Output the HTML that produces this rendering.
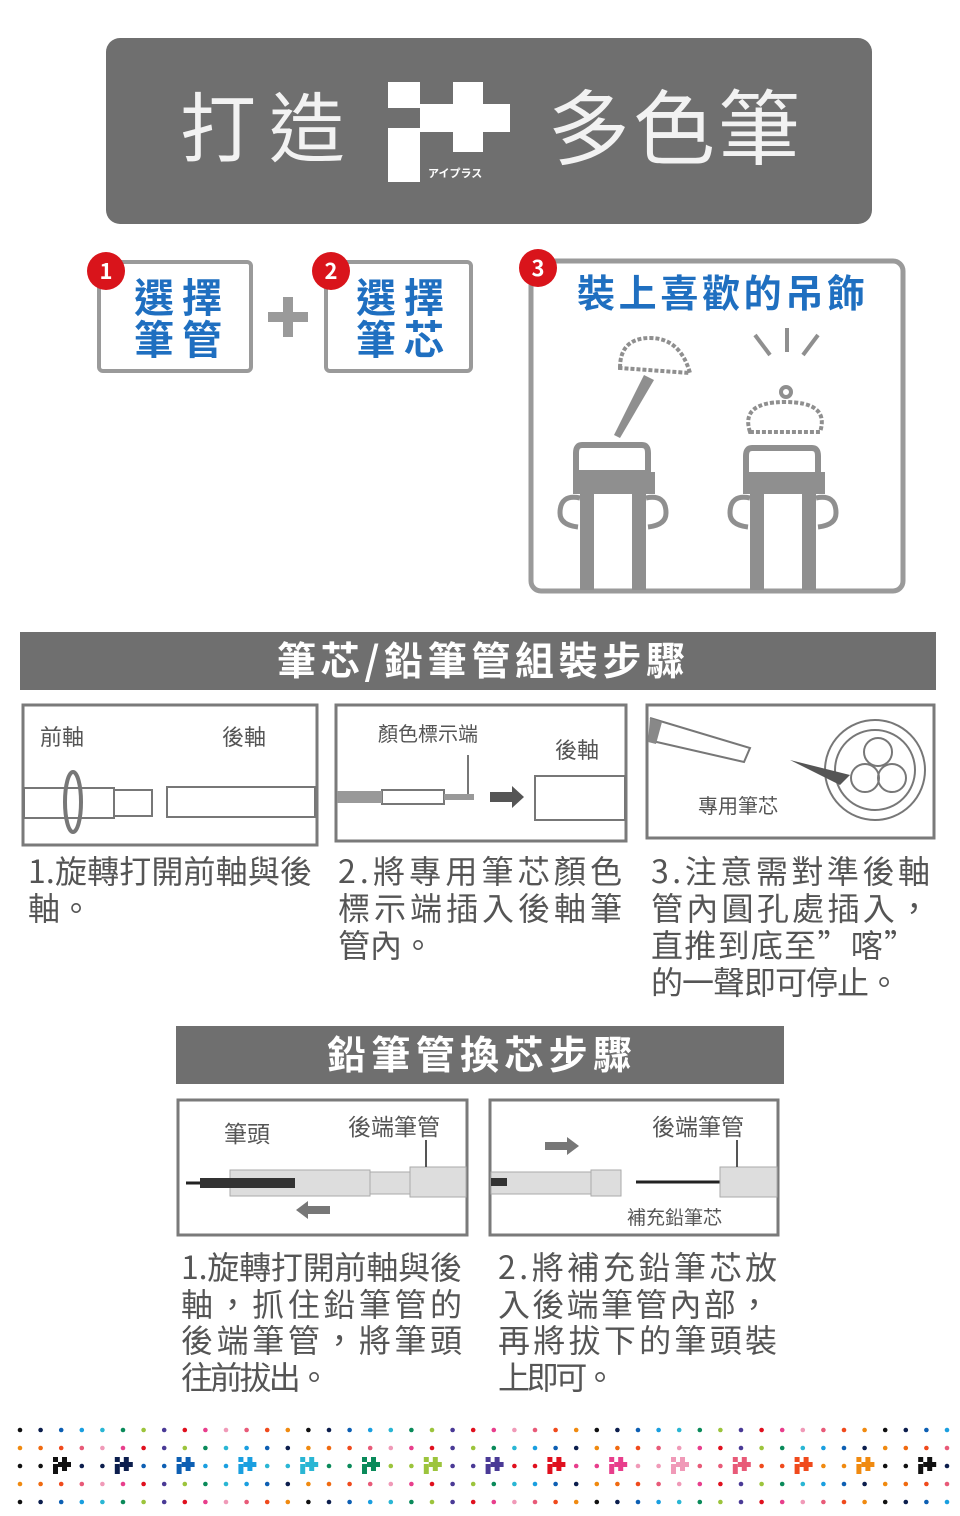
<!DOCTYPE html>
<html><head><meta charset="utf-8"><style>
html,body{margin:0;padding:0;background:#fff;}
svg{display:block}
text{font-family:"Noto Sans CJK TC","Liberation Sans",sans-serif;}
</style></head><body>
<svg width="960" height="1516" viewBox="0 0 960 1516" xmlns="http://www.w3.org/2000/svg">
<!-- header -->
<rect x="106" y="38" width="766" height="186" rx="14" fill="#6f6f6f"/>
<text x="180" y="156" font-size="76" fill="#f2f2f2" textLength="165" lengthAdjust="spacing">打造</text>
<text x="548" y="158" font-size="82" fill="#f2f2f2" textLength="252" lengthAdjust="spacing">多色筆</text>
<rect x="388" y="82" width="32" height="26" fill="#fff"/>
<rect x="388" y="128" width="32" height="54" fill="#fff"/>
<rect x="420" y="104" width="90" height="28" fill="#fff"/>
<rect x="453" y="82" width="30" height="70" fill="#fff"/>
<text x="428" y="177" font-size="11" fill="#fff" font-weight="bold">アイプラス</text>

<!-- step boxes -->
<rect x="99" y="262" width="152" height="109" rx="4" fill="none" stroke="#9a9a9a" stroke-width="4"/>
<rect x="326" y="262" width="145" height="109" rx="4" fill="none" stroke="#9a9a9a" stroke-width="4"/>
<rect x="531" y="261" width="372" height="330" rx="10" fill="none" stroke="#9a9a9a" stroke-width="5"/>
<g fill="#1f6fc0" font-weight="bold" font-size="40">
<text x="134" y="312" textLength="88" lengthAdjust="spacing">選擇</text><text x="134" y="354" textLength="88" lengthAdjust="spacing">筆管</text>
<text x="356" y="312" textLength="88" lengthAdjust="spacing">選擇</text><text x="356" y="354" textLength="88" lengthAdjust="spacing">筆芯</text>
<text x="577" y="307" font-size="38" textLength="288" lengthAdjust="spacing">裝上喜歡的吊飾</text>
</g>
<rect x="268" y="312" width="40" height="10" fill="#9a9a9a"/>
<rect x="283" y="297" width="10" height="40" fill="#9a9a9a"/>
<g font-weight="bold" font-size="22" fill="#fff" text-anchor="middle">
<circle cx="106" cy="271" r="19" fill="#d9141b"/><text x="106" y="279">1</text>
<circle cx="331" cy="271" r="19" fill="#d9141b"/><text x="331" y="279">2</text>
<circle cx="538" cy="268" r="19" fill="#d9141b"/><text x="538" y="276">3</text>
</g>
<!-- pens with crowns -->
<g fill="#8f8f8f">
<path d="M582 445 h60 q6 0 6 8 v20 h-72 v-20 q0-8 6-8z" fill="#fff" stroke="#8f8f8f" stroke-width="6"/>
<rect x="573" y="472" width="82" height="22"/>
<rect x="580" y="494" width="14" height="96"/><rect x="632" y="494" width="14" height="96"/>
<path d="M580 498 q-20 -4 -20 15 q0 12 18 14" fill="none" stroke="#8f8f8f" stroke-width="5"/>
<path d="M646 498 q20 -4 20 15 q0 12 -18 14" fill="none" stroke="#8f8f8f" stroke-width="5"/>
<path d="M752 448 h60 q6 0 6 8 v20 h-72 v-20 q0-8 6-8z" fill="#fff" stroke="#8f8f8f" stroke-width="6"/>
<rect x="743" y="472" width="82" height="22"/>
<rect x="750" y="494" width="14" height="96"/><rect x="802" y="494" width="14" height="96"/>
<path d="M750 498 q-20 -4 -20 15 q0 12 18 14" fill="none" stroke="#8f8f8f" stroke-width="5"/>
<path d="M816 498 q20 -4 20 15 q0 12 -18 14" fill="none" stroke="#8f8f8f" stroke-width="5"/>
<path d="M614 435 l30 -60 l10 5 l-34 58z"/>
</g>
<g fill="none" stroke="#8f8f8f" stroke-width="4" stroke-dasharray="4 2">
<path d="M620 368 q0 -30 30 -30 q30 0 40 35 l-70 -5z"/>
<path d="M750 432 q-10 -30 35 -30 q45 0 35 30 z"/>
</g>
<g fill="none" stroke="#8f8f8f" stroke-width="4">
<circle cx="786" cy="392" r="5"/>
<line x1="755" y1="335" x2="770" y2="355"/><line x1="787" y1="328" x2="787" y2="352"/><line x1="818" y1="335" x2="803" y2="355"/>
</g>

<!-- section bar 1 -->
<rect x="20" y="632" width="916" height="58" fill="#6f6f6f"/>
<text x="277" y="675" font-size="39" fill="#fff" font-weight="bold" textLength="408" lengthAdjust="spacing">筆芯/鉛筆管組裝步驟</text>
<g fill="none" stroke="#7a7a7a" stroke-width="3">
<rect x="23" y="705" width="294" height="140"/>
<rect x="336" y="705" width="290" height="136"/>
<rect x="647" y="705" width="287" height="133"/>
</g>
<g font-size="22" fill="#555">
<text x="40" y="745">前軸</text><text x="222" y="745">後軸</text>
<text x="378" y="741" font-size="20">顏色標示端</text><text x="555" y="758">後軸</text>
<text x="698" y="813" font-size="20">專用筆芯</text>
</g>
<g fill="none" stroke="#777" stroke-width="2">
<rect x="24" y="788" width="90" height="30"/><rect x="114" y="790" width="38" height="26"/>
<rect x="167" y="787" width="148" height="30"/>
<ellipse cx="73" cy="802" rx="8" ry="30" stroke-width="4"/>
<rect x="382" y="790" width="62" height="14"/><line x1="468" y1="755" x2="468" y2="795"/>
<rect x="535" y="776" width="90" height="44"/>
<circle cx="875" cy="770" r="50"/><circle cx="875" cy="770" r="40"/>
<circle cx="878" cy="752" r="14"/><circle cx="865" cy="778" r="14"/><circle cx="892" cy="778" r="14"/>
<path d="M650 718 l100 30 l-6 14 l-96 -22"/>
</g>
<rect x="337" y="791" width="45" height="12" fill="#999"/>
<rect x="444" y="794" width="30" height="6" fill="#999"/>
<path d="M490 792 h22 v-6 l12 11 l-12 11 v-6 h-22z" fill="#555"/>
<path d="M650 718 l12 4 l-6 22 l-8 -2z" fill="#888"/>
<path d="M790 760 l60 15 l-10 10z" fill="#555"/>
<g font-size="32" fill="#555">
<text x="28" y="883" textLength="284" lengthAdjust="spacing">1.旋轉打開前軸與後</text><text x="28" y="920">軸。</text>
<text x="338" y="883" textLength="284" lengthAdjust="spacing">2.將專用筆芯顏色</text><text x="338" y="920" textLength="284" lengthAdjust="spacing">標示端插入後軸筆</text><text x="338" y="957">管內。</text>
<text x="651" y="883" textLength="279" lengthAdjust="spacing">3.注意需對準後軸</text><text x="651" y="920" textLength="279" lengthAdjust="spacing">管內圓孔處插入，</text><text x="651" y="957" textLength="265" lengthAdjust="spacing">直推到底至”喀”</text><text x="651" y="994" textLength="249" lengthAdjust="spacing">的一聲即可停止。</text>
</g>

<!-- section bar 2 -->
<rect x="176" y="1026" width="608" height="58" fill="#6f6f6f"/>
<text x="327" y="1069" font-size="39" fill="#fff" font-weight="bold" textLength="305" lengthAdjust="spacing">鉛筆管換芯步驟</text>
<g fill="none" stroke="#7a7a7a" stroke-width="3">
<rect x="178" y="1100" width="289" height="135"/>
<rect x="490" y="1100" width="288" height="135"/>
</g>
<g font-size="23" fill="#555">
<text x="224" y="1142">筆頭</text><text x="348" y="1135">後端筆管</text>
<text x="652" y="1135">後端筆管</text><text x="627" y="1224" font-size="19">補充鉛筆芯</text>
</g>
<rect x="230" y="1170" width="140" height="26" fill="#ddd" stroke="#aaa"/>
<rect x="370" y="1172" width="40" height="22" fill="#ddd" stroke="#aaa"/>
<rect x="410" y="1167" width="56" height="30" fill="#ddd" stroke="#aaa"/>
<rect x="200" y="1178" width="95" height="10" fill="#333"/>
<line x1="186" y1="1183" x2="200" y2="1183" stroke="#222" stroke-width="3"/>
<line x1="426" y1="1140" x2="426" y2="1167" stroke="#555" stroke-width="2"/>
<path d="M330 1206 h-22 v-5 l-12 9 l12 9 v-5 h22z" fill="#777"/>
<rect x="491" y="1172" width="100" height="22" fill="#ddd" stroke="#aaa"/>
<rect x="591" y="1170" width="30" height="26" fill="#ddd" stroke="#aaa"/>
<rect x="491" y="1178" width="16" height="8" fill="#333"/>
<line x1="636" y1="1182" x2="720" y2="1182" stroke="#222" stroke-width="3"/>
<rect x="720" y="1167" width="57" height="30" fill="#ddd" stroke="#aaa"/>
<line x1="737" y1="1140" x2="737" y2="1167" stroke="#555" stroke-width="2"/>
<path d="M545 1142 h22 v-5 l12 9 l-12 9 v-5 h-22z" fill="#777"/>
<g font-size="32" fill="#555">
<text x="181" y="1279" textLength="281" lengthAdjust="spacing">1.旋轉打開前軸與後</text><text x="181" y="1316" textLength="281" lengthAdjust="spacing">軸，抓住鉛筆管的</text><text x="181" y="1352" textLength="281" lengthAdjust="spacing">後端筆管，將筆頭</text><text x="181" y="1389" textLength="149" lengthAdjust="spacing">往前拔出。</text>
<text x="498" y="1279" textLength="279" lengthAdjust="spacing">2.將補充鉛筆芯放</text><text x="498" y="1316" textLength="272" lengthAdjust="spacing">入後端筆管內部，</text><text x="498" y="1352" textLength="279" lengthAdjust="spacing">再將拔下的筆頭裝</text><text x="498" y="1389" textLength="118" lengthAdjust="spacing">上即可。</text>
</g>

<!-- dots -->
<g id="dots"></g>
</svg>
<script>
(function(){
var g=document.getElementById('dots');var ns='http://www.w3.org/2000/svg';
var row1=['#111','#0c1e4d','#0d5fb3','#1a9fe0','#2ab6d4','#0a8a5a','#9cc43c','#4a3a96','#e0101e','#e83e8c','#f09ab8','#e85a78','#f04a1c','#f08a10'];
var row2=['#f08a10','#f06a10','#f04a1c','#e85a78','#f09ab8','#e83e8c','#e0101e','#4a3a96','#9cc43c','#0a8a5a','#2ab6d4','#1a9fe0','#0d5fb3','#0c1e4d'];
var ys=[1430,1448,1466,1484,1502];
for(var i=0;i<46;i++){var x=20+i*20.6;
 for(var r=0;r<5;r++){
  var col;
  if(r==2){ if(i%3==2) continue; col=row1[Math.floor(i/3)%14];}
  else if(r%2==0) col=row1[i%14]; else col=row2[i%14];
  var c=document.createElementNS(ns,'circle');c.setAttribute('cx',x);c.setAttribute('cy',ys[r]);c.setAttribute('r',2.3);c.setAttribute('fill',col);g.appendChild(c);}
}
var ic=['#111','#0c1e4d','#0d5fb3','#1a9fe0','#2ab6d4','#0a8a5a','#9cc43c','#4a3a96','#e0101e','#e83e8c','#f09ab8','#e85a78','#f04a1c','#f08a10','#111'];
for(var k=0;k<15;k++){var cx=61+k*61.8,cy=1466,f=ic[k];
 [[cx-8,cy-9,5,5],[cx-8,cy-2,5,10],[cx-3,cy-4,13,5],[cx+1,cy-9,5,14]].forEach(function(a){var r=document.createElementNS(ns,'rect');r.setAttribute('x',a[0]);r.setAttribute('y',a[1]);r.setAttribute('width',a[2]);r.setAttribute('height',a[3]);r.setAttribute('fill',f);g.appendChild(r);});}
})();
</script>
</body></html>
